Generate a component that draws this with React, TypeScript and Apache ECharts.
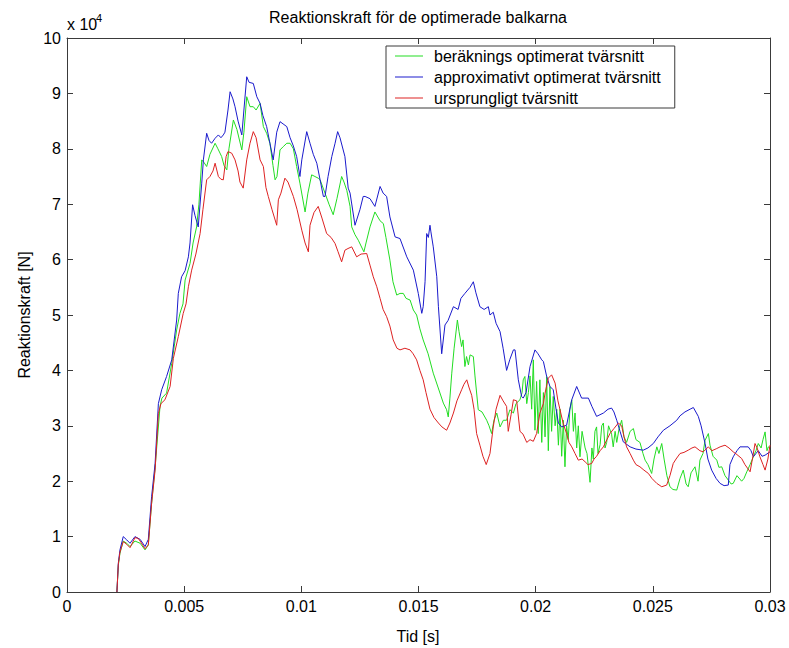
import { useEffect, useRef } from "react";
import * as echarts from "echarts";

// Reaction force vs time, [time (ms), force (x 10^4 N)]
const berakningsOptimerat: [number, number][] = [
  [2.13,0],[2.19,0.48],[2.26,0.70],[2.40,0.92],[2.55,0.88],[2.69,0.82],[2.90,0.92],[3.12,0.88],[3.33,0.76],[3.47,0.85],[3.61,1.60],[3.76,2.25],[3.97,3.35],[4.05,3.50],[4.25,3.59],[4.47,4.13],[4.68,4.73],[4.82,5.03],[4.95,5.20],[5.04,5.63],[5.25,5.93],[5.38,6.30],[5.53,6.59],[5.63,7.00],[5.75,7.80],[5.85,7.75],[5.96,7.68],[6.10,7.90],[6.32,8.10],[6.44,8.00],[6.60,7.86],[6.70,7.70],[6.82,7.62],[6.91,8.00],[7.10,8.52],[7.25,8.35],[7.46,7.98],[7.55,8.30],[7.67,8.94],[7.81,8.76],[7.95,8.76],[8.07,8.70],[8.24,8.82],[8.38,8.40],[8.52,8.28],[8.66,8.10],[8.79,7.70],[8.88,7.44],[8.96,7.50],[9.09,7.98],[9.23,8.04],[9.38,8.10],[9.52,8.10],[9.66,8.00],[9.80,7.68],[9.94,7.38],[10.16,6.86],[10.28,7.20],[10.44,7.53],[10.58,7.50],[10.72,7.47],[10.80,7.44],[11.01,7.20],[11.18,7.00],[11.36,6.81],[11.52,7.10],[11.72,7.50],[11.82,7.40],[11.94,7.25],[12.08,6.96],[12.15,6.59],[12.29,6.45],[12.43,6.35],[12.67,6.14],[12.76,6.30],[12.93,6.59],[13.14,6.86],[13.36,6.70],[13.50,6.65],[13.61,6.40],[13.78,5.99],[13.91,5.60],[14.07,5.36],[14.21,5.39],[14.35,5.39],[14.47,5.30],[14.64,5.27],[14.78,5.09],[14.92,5.00],[15.06,4.75],[15.20,4.55],[15.41,4.30],[15.63,3.95],[15.83,3.70],[16.06,3.41],[16.20,3.29],[16.27,3.16],[16.34,3.50],[16.42,3.95],[16.52,4.40],[16.66,4.91],[16.73,4.70],[16.84,4.43],[16.90,4.55],[16.98,4.07],[17.05,4.25],[17.13,4.10],[17.20,4.28],[17.34,4.25],[17.41,3.90],[17.55,3.29],[17.71,3.25],[17.91,3.10],[18.01,3.00],[18.12,2.86],[18.22,3.10],[18.34,3.23],[18.48,2.98],[18.62,3.10],[18.76,3.10],[18.90,3.29],[19.05,3.23],[19.16,3.40],[19.33,3.47],[19.42,3.60],[19.47,3.83],[19.54,3.89],[19.62,3.40],[19.69,3.60],[19.76,3.90],[19.83,3.30],[19.90,4.19],[19.97,2.92],[20.04,3.80],[20.11,2.86],[20.18,3.83],[20.26,2.70],[20.33,3.60],[20.40,2.80],[20.47,3.89],[20.54,2.55],[20.61,3.71],[20.68,2.90],[20.75,3.53],[20.83,3.00],[20.90,3.30],[20.97,2.65],[21.04,3.30],[21.11,2.45],[21.18,3.10],[21.25,2.26],[21.32,3.00],[21.39,2.75],[21.46,3.30],[21.54,3.47],[21.61,2.90],[21.68,3.23],[21.75,2.60],[21.82,3.00],[21.89,2.44],[21.98,2.90],[22.11,2.60],[22.19,2.50],[22.32,1.98],[22.40,2.60],[22.46,2.40],[22.53,2.90],[22.60,2.98],[22.66,2.50],[22.75,2.66],[22.82,3.00],[22.89,3.05],[22.96,2.60],[23.03,2.70],[23.11,3.00],[23.24,2.85],[23.31,2.62],[23.39,2.90],[23.46,2.70],[23.56,2.95],[23.67,3.10],[23.77,2.80],[23.88,2.70],[24.03,2.90],[24.17,2.95],[24.28,2.75],[24.45,2.70],[24.58,2.50],[24.67,2.38],[24.79,2.30],[24.95,2.14],[25.05,2.40],[25.17,2.62],[25.26,2.50],[25.38,2.68],[25.48,2.40],[25.60,2.10],[25.73,1.90],[25.86,1.85],[26.02,1.84],[26.16,2.05],[26.30,2.20],[26.42,1.95],[26.51,1.90],[26.63,2.15],[26.80,2.26],[26.93,2.00],[27.01,2.38],[27.14,2.50],[27.23,2.74],[27.37,2.86],[27.44,2.65],[27.57,2.45],[27.73,2.38],[27.82,2.25],[27.94,2.26],[28.08,2.10],[28.22,2.02],[28.34,1.95],[28.43,1.96],[28.59,2.10],[28.79,2.00],[28.89,2.05],[29.01,2.17],[29.15,2.30],[29.29,2.44],[29.40,2.55],[29.50,2.68],[29.62,2.60],[29.70,2.75],[29.79,2.89],[29.87,2.55],[29.93,2.62],[30.00,2.60],
];

const approximativtOptimerat: [number, number][] = [
  [2.13,0],[2.19,0.52],[2.26,0.76],[2.40,1.00],[2.55,0.94],[2.69,0.88],[2.90,1.00],[3.12,0.95],[3.33,0.82],[3.47,0.95],[3.61,1.72],[3.76,2.32],[3.90,3.40],[4.04,3.65],[4.25,3.89],[4.47,4.19],[4.68,4.91],[4.75,5.39],[4.89,5.69],[5.04,5.80],[5.18,6.05],[5.25,6.30],[5.36,6.99],[5.46,6.80],[5.60,6.59],[5.75,7.38],[5.82,7.80],[5.96,8.28],[6.06,8.15],[6.17,8.10],[6.32,8.19],[6.46,8.25],[6.57,8.20],[6.67,8.25],[6.74,8.30],[6.87,8.70],[6.96,9.03],[7.08,8.90],[7.17,8.76],[7.30,8.50],[7.46,8.25],[7.55,8.70],[7.67,9.30],[7.77,9.20],[7.95,9.18],[8.10,8.94],[8.24,8.82],[8.36,8.60],[8.52,8.40],[8.66,8.10],[8.80,7.80],[8.95,8.30],[9.09,8.49],[9.22,8.45],[9.38,8.40],[9.52,8.20],[9.66,8.05],[9.80,7.86],[9.94,7.50],[10.02,7.80],[10.23,8.31],[10.37,8.10],[10.51,7.90],[10.66,7.74],[10.80,7.44],[10.94,7.14],[11.01,7.14],[11.14,7.50],[11.30,7.86],[11.44,8.10],[11.55,8.31],[11.65,8.20],[11.86,7.86],[12.00,7.29],[12.08,7.20],[12.29,6.62],[12.50,6.90],[12.64,7.14],[12.72,7.14],[12.93,7.10],[13.14,6.96],[13.36,7.32],[13.49,7.20],[13.64,7.14],[13.78,6.77],[14.00,6.41],[14.21,6.38],[14.50,6.05],[14.78,5.81],[14.99,5.39],[15.14,5.03],[15.20,5.15],[15.28,5.60],[15.35,6.47],[15.42,6.40],[15.49,6.62],[15.53,6.50],[15.63,6.23],[15.78,5.69],[15.85,5.15],[15.99,4.30],[16.13,4.82],[16.26,4.90],[16.49,5.15],[16.69,5.10],[16.81,5.30],[16.98,5.39],[17.20,5.50],[17.34,5.60],[17.45,5.40],[17.62,5.15],[17.80,5.10],[17.98,5.15],[18.05,5.00],[18.19,5.05],[18.31,4.85],[18.48,4.70],[18.61,4.40],[18.76,4.00],[18.90,4.20],[19.05,4.37],[19.12,4.37],[19.26,3.83],[19.40,3.53],[19.47,3.50],[19.59,3.60],[19.76,4.07],[19.97,4.37],[20.10,4.30],[20.26,4.19],[20.33,4.16],[20.47,3.89],[20.61,3.71],[20.75,3.65],[20.87,3.30],[20.97,3.05],[21.11,2.98],[21.32,3.01],[21.54,3.47],[21.75,3.71],[21.96,3.50],[22.25,3.50],[22.40,3.35],[22.60,3.17],[22.89,3.23],[23.09,3.30],[23.24,3.32],[23.34,3.25],[23.46,3.10],[23.60,2.90],[23.74,2.71],[24.03,2.62],[24.28,2.58],[24.59,2.56],[24.79,2.60],[25.02,2.68],[25.22,2.80],[25.45,2.92],[25.73,3.00],[26.02,3.10],[26.16,3.18],[26.37,3.25],[26.59,3.30],[26.73,3.33],[26.94,3.17],[27.06,3.00],[27.23,2.68],[27.35,2.40],[27.51,2.20],[27.70,2.05],[27.87,1.96],[28.04,1.92],[28.22,1.93],[28.29,2.30],[28.43,2.44],[28.59,2.55],[28.72,2.62],[28.89,2.62],[29.07,2.62],[29.19,2.55],[29.29,2.44],[29.40,2.50],[29.50,2.55],[29.66,2.45],[29.79,2.47],[30.00,2.53],
];

const ursprungligt: [number, number][] = [
  [2.13,0],[2.19,0.50],[2.26,0.72],[2.40,0.91],[2.55,0.86],[2.69,0.80],[2.90,0.98],[3.03,0.97],[3.12,0.92],[3.33,0.78],[3.47,0.85],[3.61,1.60],[3.76,2.20],[3.90,3.22],[4.01,3.40],[4.18,3.47],[4.40,3.71],[4.54,4.22],[4.75,4.61],[4.96,5.03],[5.08,5.20],[5.18,5.51],[5.32,5.81],[5.50,6.10],[5.68,6.47],[5.80,6.90],[5.96,7.44],[6.10,7.50],[6.23,7.60],[6.32,7.74],[6.46,7.50],[6.57,7.45],[6.67,7.44],[6.79,7.86],[6.87,7.95],[7.03,7.92],[7.17,7.80],[7.30,7.60],[7.38,7.40],[7.52,7.29],[7.67,7.80],[7.81,8.10],[7.95,8.31],[8.07,8.20],[8.24,7.80],[8.38,7.68],[8.49,7.30],[8.59,7.14],[8.75,6.90],[8.95,6.62],[9.02,7.08],[9.13,7.20],[9.30,7.47],[9.43,7.40],[9.66,7.14],[9.82,6.90],[10.02,6.53],[10.16,6.30],[10.30,6.14],[10.37,6.62],[10.54,6.85],[10.72,6.96],[10.88,6.75],[11.08,6.47],[11.27,6.40],[11.44,6.29],[11.56,6.15],[11.72,5.96],[11.86,6.17],[11.99,6.20],[12.15,6.23],[12.36,6.05],[12.55,6.10],[12.79,6.11],[12.93,5.90],[13.07,5.69],[13.22,5.51],[13.36,5.30],[13.49,5.10],[13.64,4.97],[13.78,4.80],[13.92,4.55],[14.08,4.40],[14.21,4.37],[14.42,4.40],[14.64,4.37],[14.77,4.30],[14.92,4.19],[15.06,4.00],[15.20,3.83],[15.32,3.60],[15.49,3.30],[15.66,3.15],[15.85,3.05],[16.00,2.98],[16.20,2.92],[16.34,3.05],[16.49,3.23],[16.64,3.45],[16.84,3.65],[16.94,3.75],[17.06,3.83],[17.15,3.70],[17.27,3.55],[17.37,3.30],[17.48,2.86],[17.62,2.65],[17.75,2.45],[17.89,2.30],[17.97,2.40],[18.05,2.50],[18.19,2.98],[18.31,3.30],[18.48,3.55],[18.61,3.45],[18.76,3.35],[18.83,2.90],[18.95,3.20],[19.05,3.47],[19.19,3.45],[19.33,2.90],[19.46,2.85],[19.62,2.70],[19.76,2.75],[19.90,2.72],[20.04,2.86],[20.18,3.23],[20.33,3.40],[20.40,3.59],[20.54,3.86],[20.68,3.92],[20.83,3.77],[20.95,3.45],[21.04,3.29],[21.17,3.05],[21.32,2.86],[21.42,2.70],[21.54,2.62],[21.68,2.50],[21.82,2.38],[21.98,2.40],[22.11,2.35],[22.23,2.30],[22.39,2.32],[22.49,2.40],[22.60,2.45],[22.75,2.55],[22.89,2.62],[23.04,2.75],[23.17,2.86],[23.34,2.95],[23.53,3.05],[23.67,3.00],[23.77,2.80],[23.88,2.62],[24.03,2.50],[24.17,2.38],[24.28,2.30],[24.45,2.26],[24.62,2.20],[24.81,2.14],[24.96,2.05],[25.17,1.96],[25.38,1.90],[25.59,1.93],[25.73,2.10],[25.87,2.32],[25.99,2.40],[26.16,2.50],[26.33,2.52],[26.51,2.56],[26.67,2.60],[26.80,2.62],[27.01,2.55],[27.15,2.53],[27.37,2.62],[27.52,2.55],[27.73,2.59],[27.87,2.62],[28.08,2.65],[28.25,2.60],[28.43,2.53],[28.59,2.48],[28.79,2.41],[28.93,2.30],[29.15,2.17],[29.27,2.45],[29.36,2.68],[29.45,2.60],[29.57,2.44],[29.70,2.30],[29.79,2.20],[29.91,2.40],[30.00,2.65],
];

const seriesNames = [
  "beräknings optimerat tvärsnitt",
  "approximativt optimerat tvärsnitt",
  "ursprungligt tvärsnitt",
];
const seriesColors = ["#22dd22", "#1a1acc", "#dd2222"];

const FONT = "'Liberation Sans', Arial, sans-serif";
const AXIS_COLOR = "#3a3a3a";

const toSeconds = (pts: [number, number][]) => pts.map(([ms, f]) => [ms / 1000, f]);

const fmtX = (v: number) => String(parseFloat(v.toFixed(4)));

export default function App() {
  const ref = useRef<HTMLDivElement>(null);

  useEffect(() => {
    if (!ref.current) return;
    const chart = echarts.init(ref.current, undefined, { renderer: "svg" });

    const baseX = {
      type: "value" as const,
      min: 0,
      max: 0.03,
      interval: 0.005,
      splitLine: { show: false },
      axisLine: { show: true, onZero: false, lineStyle: { color: AXIS_COLOR, width: 1 } },
      axisTick: { show: true, inside: true, length: 6, lineStyle: { color: AXIS_COLOR } },
    };
    const baseY = {
      type: "value" as const,
      min: 0,
      max: 10,
      interval: 1,
      splitLine: { show: false },
      axisLine: { show: true, onZero: false, lineStyle: { color: AXIS_COLOR, width: 1 } },
      axisTick: { show: true, inside: true, length: 6, lineStyle: { color: AXIS_COLOR } },
    };

    const datasets = [berakningsOptimerat, approximativtOptimerat, ursprungligt];

    chart.setOption({
      animation: false,
      backgroundColor: "#ffffff",
      grid: { left: 67, right: 19, top: 38, bottom: 56, containLabel: false },
      xAxis: [
        {
          ...baseX,
          position: "bottom",
          axisLabel: { show: true, fontSize: 16, fontFamily: FONT, color: "#000", margin: 6, formatter: fmtX },
        },
        { ...baseX, position: "top", axisLabel: { show: false } },
      ],
      yAxis: [
        {
          ...baseY,
          position: "left",
          axisLabel: { show: true, fontSize: 16, fontFamily: FONT, color: "#000", margin: 6 },
        },
        { ...baseY, position: "right", axisLabel: { show: false } },
      ],
      legend: {
        orient: "vertical",
        left: 386,
        top: 46,
        padding: [2, 14, 2, 9],
        icon: "rect",
        itemWidth: 28,
        itemHeight: 1,
        itemGap: 5,
        borderColor: AXIS_COLOR,
        borderWidth: 1,
        backgroundColor: "#ffffff",
        selectedMode: false,
        textStyle: { fontSize: 16, fontFamily: FONT, color: "#000", lineHeight: 16, padding: [0, 0, 0, 6] },
        data: seriesNames,
      },
      series: datasets.map((d, i) => ({
        name: seriesNames[i],
        type: "line",
        xAxisIndex: 0,
        yAxisIndex: 0,
        data: toSeconds(d),
        symbol: "none",
        showSymbol: false,
        color: seriesColors[i],
        itemStyle: { color: seriesColors[i] },
        lineStyle: { color: seriesColors[i], width: 1 },
        z: 2 + i,
      })),
      graphic: [
        {
          type: "text",
          x: 418,
          y: 17,
          style: {
            text: "Reaktionskraft för de optimerade balkarna",
            fontSize: 16,
            fontFamily: FONT,
            fill: "#000",
            align: "center",
            verticalAlign: "middle",
          },
        },
        {
          type: "text",
          left: 67,
          top: 16,
          style: { text: "x 10", fontSize: 16, fontFamily: FONT, fill: "#000" },
        },
        {
          type: "text",
          left: 96,
          top: 12,
          style: { text: "4", fontSize: 11, fontFamily: FONT, fill: "#000" },
        },
        {
          type: "text",
          x: 418,
          y: 636,
          style: { text: "Tid [s]", fontSize: 16, fontFamily: FONT, fill: "#000", align: "center", verticalAlign: "middle" },
        },
        {
          type: "text",
          x: 24,
          y: 315,
          rotation: Math.PI / 2,
          style: { text: "Reaktionskraft [N]", fontSize: 16, fontFamily: FONT, fill: "#000", align: "center", verticalAlign: "middle" },
        },
      ],
    });

    return () => chart.dispose();
  }, []);

  return (
    <div
      ref={ref}
      style={{ position: "fixed", left: 0, top: 0, width: 789, height: 648, background: "#fff" }}
    />
  );
}
